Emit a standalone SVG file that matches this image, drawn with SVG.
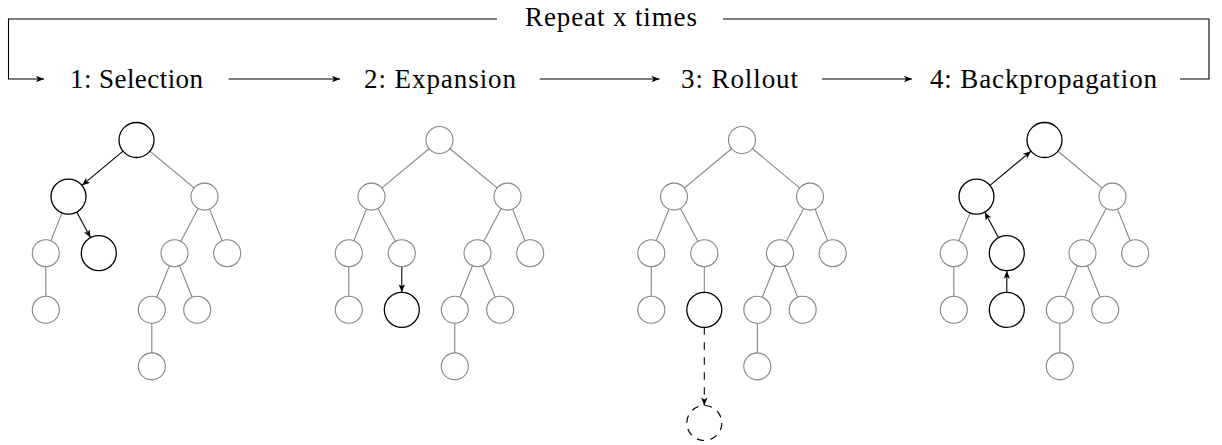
<svg xmlns="http://www.w3.org/2000/svg" width="1222" height="445" viewBox="0 0 1222 445">
<defs>
<style>
.lbl{font-family:"Liberation Serif","Times New Roman",serif;font-size:27px;fill:#000}
.hd{fill:none;stroke:#000;stroke-width:1.1}
.e{stroke:#858585;stroke-width:1.1;fill:none}
.a{stroke:#000;stroke-width:1.1;fill:none;marker-end:url(#ah)}
.d{stroke:#000;stroke-width:1.1;fill:none;stroke-dasharray:7.5 7.5;marker-end:url(#ah)}
.g{fill:#fff;stroke:#858585;stroke-width:1.1}
.b{fill:#fff;stroke:#000;stroke-width:1.3}
.dc{fill:none;stroke:#000;stroke-width:1.2;stroke-dasharray:7.3 6.45}
</style>
<marker id="ah" viewBox="-9 -5 10 10" refX="0" refY="0" markerWidth="10" markerHeight="10" markerUnits="userSpaceOnUse" orient="auto">
<path d="M0,0 L-8,-3.2 L-6,0 L-8,3.2 Z" fill="#000"/>
</marker>
</defs>
<rect width="1222" height="445" fill="#fff"/>

<g id="header">
<text class="lbl" x="525" y="26" textLength="172" lengthAdjust="spacing">Repeat x times</text>
<text class="lbl" x="70" y="88" textLength="133" lengthAdjust="spacing">1: Selection</text>
<text class="lbl" x="364" y="88" textLength="152" lengthAdjust="spacing">2: Expansion</text>
<text class="lbl" x="681" y="88" textLength="117" lengthAdjust="spacing">3: Rollout</text>
<text class="lbl" x="930" y="88" textLength="227" lengthAdjust="spacing">4: Backpropagation</text>
</g>

<g id="connectors">
<!-- header loop and step arrows -->
<polyline class="hd" points="497,19 8.5,19 8.5,79 44,79" marker-end="url(#ah)"/>
<polyline class="hd" points="723,19 1209,19 1209,79 1180,79"/>
<line class="hd" x1="228.5" y1="79" x2="340" y2="79" marker-end="url(#ah)"/>
<line class="hd" x1="539.7" y1="79" x2="659.5" y2="79" marker-end="url(#ah)"/>
<line class="hd" x1="822" y1="79" x2="912" y2="79" marker-end="url(#ah)"/>

<!-- tree 1 -->
<line class="e" x1="136.5" y1="140" x2="204.5" y2="196.6"/>
<line class="e" x1="68.5" y1="196.6" x2="45.8" y2="253.2"/>
<line class="e" x1="204.5" y1="196.6" x2="174.5" y2="253.2"/>
<line class="e" x1="204.5" y1="196.6" x2="227.2" y2="253.2"/>
<line class="e" x1="45.8" y1="253.2" x2="45.8" y2="309.8"/>
<line class="e" x1="174.5" y1="253.2" x2="151.8" y2="309.8"/>
<line class="e" x1="174.5" y1="253.2" x2="197.2" y2="309.8"/>
<line class="e" x1="151.8" y1="309.8" x2="151.8" y2="366.4"/>
<line class="a" x1="123.05" y1="151.2" x2="81.95" y2="185.4"/>
<line class="a" x1="76.76" y1="212.03" x2="90.54" y2="237.77"/>

<!-- tree 2 -->
<line class="e" x1="439.5" y1="140" x2="371.5" y2="196.6"/>
<line class="e" x1="439.5" y1="140" x2="507.5" y2="196.6"/>
<line class="e" x1="371.5" y1="196.6" x2="348.8" y2="253.2"/>
<line class="e" x1="371.5" y1="196.6" x2="401.8" y2="253.2"/>
<line class="e" x1="507.5" y1="196.6" x2="477.5" y2="253.2"/>
<line class="e" x1="507.5" y1="196.6" x2="530.2" y2="253.2"/>
<line class="e" x1="348.8" y1="253.2" x2="348.8" y2="309.8"/>
<line class="e" x1="477.5" y1="253.2" x2="454.8" y2="309.8"/>
<line class="e" x1="477.5" y1="253.2" x2="500.2" y2="309.8"/>
<line class="e" x1="454.8" y1="309.8" x2="454.8" y2="366.4"/>
<line class="a" x1="401.8" y1="266.7" x2="401.8" y2="292.3"/>

<!-- tree 3 -->
<line class="e" x1="742" y1="140" x2="674" y2="196.6"/>
<line class="e" x1="742" y1="140" x2="810" y2="196.6"/>
<line class="e" x1="674" y1="196.6" x2="651.3" y2="253.2"/>
<line class="e" x1="674" y1="196.6" x2="704.3" y2="253.2"/>
<line class="e" x1="810" y1="196.6" x2="780" y2="253.2"/>
<line class="e" x1="810" y1="196.6" x2="832.7" y2="253.2"/>
<line class="e" x1="651.3" y1="253.2" x2="651.3" y2="309.8"/>
<line class="e" x1="704.3" y1="253.2" x2="704.3" y2="309.8"/>
<line class="e" x1="780" y1="253.2" x2="757.3" y2="309.8"/>
<line class="e" x1="780" y1="253.2" x2="802.7" y2="309.8"/>
<line class="e" x1="757.3" y1="309.8" x2="757.3" y2="366.4"/>
<line class="d" x1="704.3" y1="327.3" x2="704.3" y2="405.5"/>

<!-- tree 4 -->
<line class="e" x1="1044.5" y1="140" x2="1112.5" y2="196.6"/>
<line class="e" x1="976.5" y1="196.6" x2="953.8" y2="253.2"/>
<line class="e" x1="1112.5" y1="196.6" x2="1082.5" y2="253.2"/>
<line class="e" x1="1112.5" y1="196.6" x2="1135.2" y2="253.2"/>
<line class="e" x1="953.8" y1="253.2" x2="953.8" y2="309.8"/>
<line class="e" x1="1082.5" y1="253.2" x2="1059.8" y2="309.8"/>
<line class="e" x1="1082.5" y1="253.2" x2="1105.2" y2="309.8"/>
<line class="e" x1="1059.8" y1="309.8" x2="1059.8" y2="366.4"/>
<line class="a" x1="1006.8" y1="292.3" x2="1006.8" y2="270.7"/>
<line class="a" x1="998.54" y1="237.77" x2="984.76" y2="212.03"/>
<line class="a" x1="989.95" y1="185.4" x2="1031.05" y2="151.2"/>
</g>

<!-- tree 1 nodes -->
<g id="t1-root"><circle class="b" cx="136.5" cy="140" r="17.5"/></g>
<g id="t1-a"><circle class="b" cx="68.5" cy="196.6" r="17.5"/></g>
<g id="t1-b"><circle class="g" cx="204.5" cy="196.6" r="13.5"/></g>
<g id="t1-c"><circle class="g" cx="45.8" cy="253.2" r="13.5"/></g>
<g id="t1-d"><circle class="b" cx="98.8" cy="253.2" r="17.5"/></g>
<g id="t1-e"><circle class="g" cx="174.5" cy="253.2" r="13.5"/></g>
<g id="t1-f"><circle class="g" cx="227.2" cy="253.2" r="13.5"/></g>
<g id="t1-g"><circle class="g" cx="45.8" cy="309.8" r="13.5"/></g>
<g id="t1-i"><circle class="g" cx="151.8" cy="309.8" r="13.5"/></g>
<g id="t1-j"><circle class="g" cx="197.2" cy="309.8" r="13.5"/></g>
<g id="t1-k"><circle class="g" cx="151.8" cy="366.4" r="13.5"/></g>

<!-- tree 2 nodes -->
<g id="t2-root"><circle class="g" cx="439.5" cy="140" r="13.5"/></g>
<g id="t2-a"><circle class="g" cx="371.5" cy="196.6" r="13.5"/></g>
<g id="t2-b"><circle class="g" cx="507.5" cy="196.6" r="13.5"/></g>
<g id="t2-c"><circle class="g" cx="348.8" cy="253.2" r="13.5"/></g>
<g id="t2-d"><circle class="g" cx="401.8" cy="253.2" r="13.5"/></g>
<g id="t2-e"><circle class="g" cx="477.5" cy="253.2" r="13.5"/></g>
<g id="t2-f"><circle class="g" cx="530.2" cy="253.2" r="13.5"/></g>
<g id="t2-g"><circle class="g" cx="348.8" cy="309.8" r="13.5"/></g>
<g id="t2-h"><circle class="b" cx="401.8" cy="309.8" r="17.5"/></g>
<g id="t2-i"><circle class="g" cx="454.8" cy="309.8" r="13.5"/></g>
<g id="t2-j"><circle class="g" cx="500.2" cy="309.8" r="13.5"/></g>
<g id="t2-k"><circle class="g" cx="454.8" cy="366.4" r="13.5"/></g>

<!-- tree 3 nodes -->
<g id="t3-root"><circle class="g" cx="742" cy="140" r="13.5"/></g>
<g id="t3-a"><circle class="g" cx="674" cy="196.6" r="13.5"/></g>
<g id="t3-b"><circle class="g" cx="810" cy="196.6" r="13.5"/></g>
<g id="t3-c"><circle class="g" cx="651.3" cy="253.2" r="13.5"/></g>
<g id="t3-d"><circle class="g" cx="704.3" cy="253.2" r="13.5"/></g>
<g id="t3-e"><circle class="g" cx="780" cy="253.2" r="13.5"/></g>
<g id="t3-f"><circle class="g" cx="832.7" cy="253.2" r="13.5"/></g>
<g id="t3-g"><circle class="g" cx="651.3" cy="309.8" r="13.5"/></g>
<g id="t3-h"><circle class="b" cx="704.3" cy="309.8" r="17.5"/></g>
<g id="t3-i"><circle class="g" cx="757.3" cy="309.8" r="13.5"/></g>
<g id="t3-j"><circle class="g" cx="802.7" cy="309.8" r="13.5"/></g>
<g id="t3-k"><circle class="g" cx="757.3" cy="366.4" r="13.5"/></g>
<g id="t3-rollout"><circle class="dc" cx="704.3" cy="423" r="17.5"/></g>

<!-- tree 4 nodes -->
<g id="t4-root"><circle class="b" cx="1044.5" cy="140" r="17.5"/></g>
<g id="t4-a"><circle class="b" cx="976.5" cy="196.6" r="17.5"/></g>
<g id="t4-b"><circle class="g" cx="1112.5" cy="196.6" r="13.5"/></g>
<g id="t4-c"><circle class="g" cx="953.8" cy="253.2" r="13.5"/></g>
<g id="t4-d"><circle class="b" cx="1006.8" cy="253.2" r="17.5"/></g>
<g id="t4-e"><circle class="g" cx="1082.5" cy="253.2" r="13.5"/></g>
<g id="t4-f"><circle class="g" cx="1135.2" cy="253.2" r="13.5"/></g>
<g id="t4-g"><circle class="g" cx="953.8" cy="309.8" r="13.5"/></g>
<g id="t4-h"><circle class="b" cx="1006.8" cy="309.8" r="17.5"/></g>
<g id="t4-i"><circle class="g" cx="1059.8" cy="309.8" r="13.5"/></g>
<g id="t4-j"><circle class="g" cx="1105.2" cy="309.8" r="13.5"/></g>
<g id="t4-k"><circle class="g" cx="1059.8" cy="366.4" r="13.5"/></g>
</svg>
